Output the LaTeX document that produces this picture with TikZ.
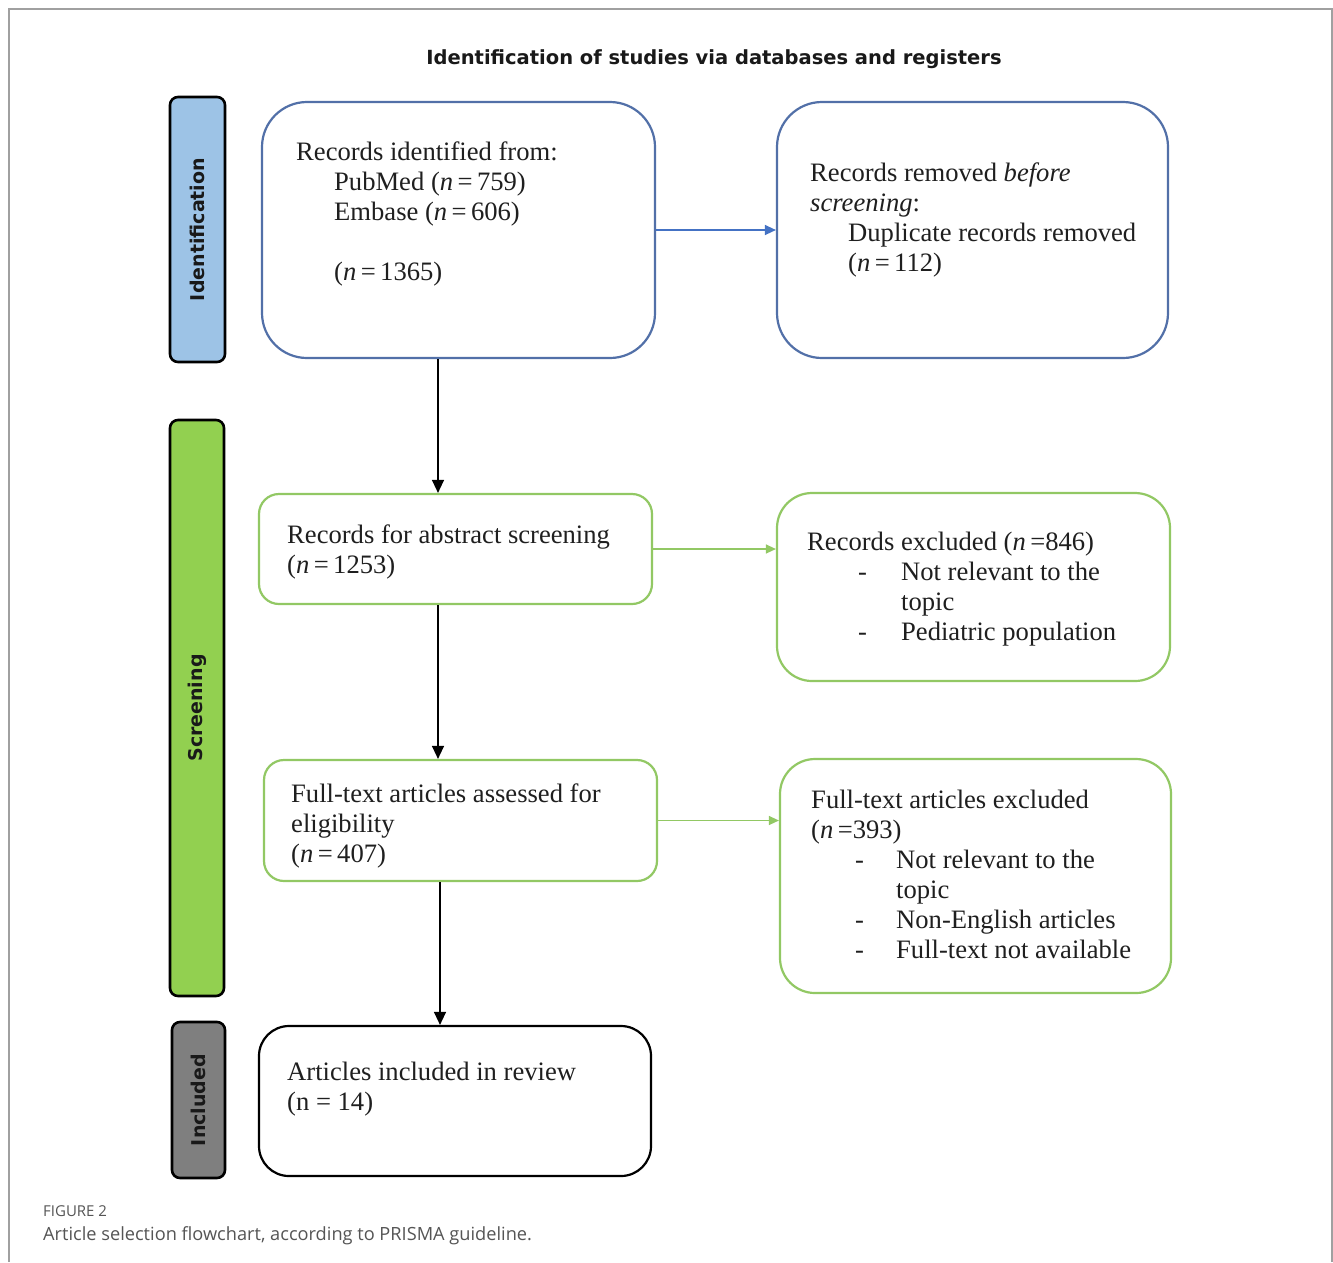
\documentclass[tikz,border=0pt]{standalone}
\usepackage{fontspec}
\setmainfont{Liberation Serif}
\newfontfamily\labfont{DejaVu Sans}
\newfontfamily\capfont{Open Sans}
\usetikzlibrary{arrows.meta}
\definecolor{sideblue}{HTML}{9DC3E6}
\definecolor{sidegreen}{HTML}{92D050}
\definecolor{sidegray}{HTML}{7F7F7F}
\definecolor{bordblue}{RGB}{82,112,168}
\definecolor{arrblue}{HTML}{4472C4}
\definecolor{bordgreen}{RGB}{146,200,100}
\definecolor{framegray}{RGB}{160,160,160}
\definecolor{captext}{RGB}{85,85,85}
\newcommand\itm[2]{\makebox[#2pt][l]{\hspace*{#1pt}-}}
\begin{document}
\begin{tikzpicture}[x=1pt,y=-1pt,
  box/.style={rectangle, draw, rounded corners=#1, line width=2.2pt, fill=white, inner sep=0pt},
  sidebox/.style={rectangle, draw=black, rounded corners=8pt, line width=2.6pt, inner sep=0pt,
      rotate=90, font=\labfont\bfseries\fontsize{19}{22}\selectfont, text=black!90},
  txt/.style={anchor=north west, inner sep=0pt, align=left, font=\fontsize{26.6}{30}\selectfont, text=black!88},
  blk/.style={draw=black, line width=1.3pt, -{Triangle[length=13pt,width=12pt]}},
  blu/.style={draw=arrblue, line width=1.3pt, -{Triangle[length=11pt,width=10pt]}},
  grn/.style={draw=bordgreen, line width=1.3pt, -{Triangle[length=10pt,width=9pt]}}
]
\useasboundingbox (0,0) rectangle (1333,1262);
\fill[white] (0,0) rectangle (1333,1262);
\draw[framegray, line width=1.5pt] (9,1262) -- (9,9) -- (1332,9) -- (1332,1262);

\node[anchor=base, font=\labfont\bfseries\fontsize{19.5}{22}\selectfont, text=black!90] (title) at (714,64)
  {Identification of studies via databases and registers};

% side labels
\node[sidebox, fill=sideblue, minimum width=265pt, minimum height=55pt] (sid) at (197.5,229.5) {Identification};
\node[sidebox, fill=sidegreen, minimum width=576pt, minimum height=54pt] (sscr) at (197,708) {Screening};
\node[sidebox, fill=sidegray, minimum width=156pt, minimum height=53pt] (sinc) at (198.5,1100) {Included};

% boxes
\node[box=45pt, draw=bordblue, minimum width=393pt, minimum height=256pt] (b1) at (458.5,230) {};
\node[box=45pt, draw=bordblue, minimum width=391pt, minimum height=256pt] (b2) at (972.5,230) {};
\node[box=20pt, draw=bordgreen, minimum width=393pt, minimum height=110pt] (b3) at (455.5,549) {};
\node[box=35pt, draw=bordgreen, minimum width=393pt, minimum height=188pt] (b4) at (973.5,587) {};
\node[box=20pt, draw=bordgreen, minimum width=393pt, minimum height=121pt] (b5) at (460.5,820.5) {};
\node[box=35pt, draw=bordgreen, minimum width=391pt, minimum height=234pt] (b6) at (975.5,876) {};
\node[box=30pt, draw=black, minimum width=392pt, minimum height=150pt] (b7) at (455,1101) {};

% texts
\node[txt] (t1) at (296,139) {\strut Records identified from:\\
  \hspace*{38pt}PubMed (\textit{n}\,=\,759)\\
  \hspace*{38pt}Embase (\textit{n}\,=\,606)\\[30pt]
  \hspace*{38pt}(\textit{n}\,=\,1365)};
\node[txt] (t2) at (810,160) {\strut Records removed \textit{before}\\
  \textit{screening}:\\
  \hspace*{38pt}Duplicate records removed\\
  \hspace*{38pt}(\textit{n}\,=\,112)};
\node[txt] (t3) at (287,522) {\strut Records for abstract screening\\
  (\textit{n}\,=\,1253)};
\node[txt] (t4) at (807,529) {\strut Records excluded (\textit{n}\,=846)\\
  \itm{51}{94}Not relevant to the\\
  \hspace*{94pt}topic\\
  \itm{51}{94}Pediatric population};
\node[txt] (t5) at (291,781) {\strut Full-text articles assessed for\\
  eligibility\\
  (\textit{n}\,=\,407)};
\node[txt] (t6) at (811,787) {\strut Full-text articles excluded\\
  (\textit{n}\,=393)\\
  \itm{44}{85}Not relevant to the\\
  \hspace*{85pt}topic\\
  \itm{44}{85}Non-English articles\\
  \itm{44}{85}Full-text not available};
\node[txt] (t7) at (287,1059) {\strut Articles included in review\\
  (n = 14)};

% connectors
\coordinate (spa) at (438,0);
\coordinate (spb) at (440,0);
\draw[blk] (b1.south -| spa) -- (b3.north -| spa);
\draw[blk] (b3.south -| spa) -- (b5.north -| spa);
\draw[blk] (b5.south -| spb) -- (b7.north -| spb);
\draw[blu] (b1.east) -- (b2.west);
\draw[grn] (b3.east) -- (b3.east -| b4.west);
\draw[grn] (b5.east) -- (b5.east -| b6.west);

% caption
\node[anchor=base west, inner sep=0pt, font=\capfont\fontsize{15}{18}\selectfont, text=captext] (fig) at (43,1216) {FIGURE 2};
\node[anchor=base west, inner sep=0pt, font=\capfont\fontsize{18.2}{21}\selectfont, text=captext] (cap) at (43,1240)
  {Article selection flowchart, according to PRISMA guideline.};
\end{tikzpicture}
\end{document}
